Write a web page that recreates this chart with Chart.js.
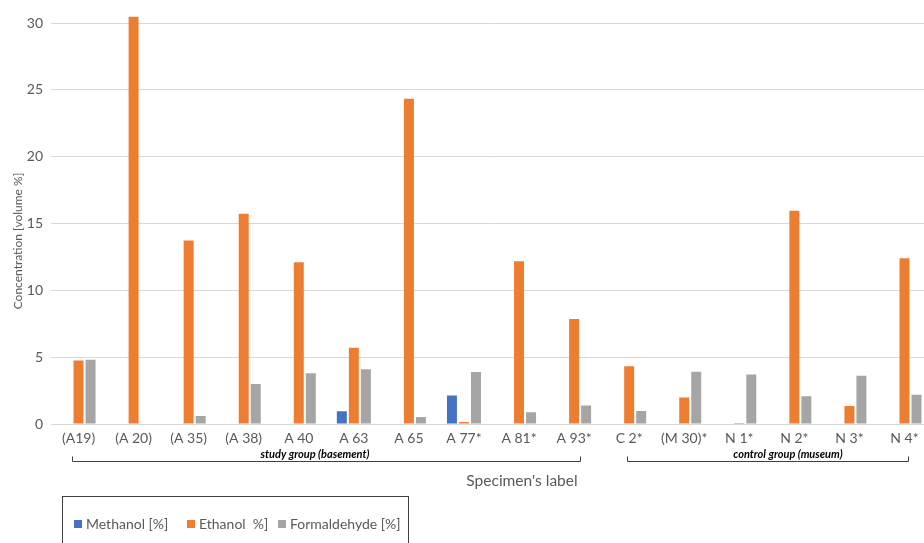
<!DOCTYPE html>
<html>
<head>
<meta charset="utf-8">
<script src="https://cdn.jsdelivr.net/npm/chart.js@4"></script>
<style>
  html, body { margin:0; padding:0; width:924px; height:543px; overflow:hidden; background:#fff; }
  #wrap { position:absolute; left:0; top:0; width:940px; height:543px; }
  #legendBox { position:absolute; left:62px; top:496px; width:347px; height:60px; border:1px solid #3f3f3f; box-sizing:border-box; font-family:Lato, "Liberation Sans", sans-serif; font-size:14px; color:#595959; }
  #legendBox .item { position:absolute; top:18px; white-space:pre; display:flex; align-items:center; }
  #legendBox .sw { width:8px; height:8px; margin-right:4px; display:inline-block; }
</style>
</head>
<body>
<div id="wrap"><canvas id="c" width="940" height="543"></canvas></div>
<div id="legendBox"></div>
<script>
const categories = ["(A19)", "(A 20)", "(A 35)", "(A 38)", "A 40", "A 63", "A 65", "A 77*", "A 81*", "A 93*", "C 2*", "(M 30)*", "N 1*", "N 2*", "N 3*", "N 4*"];
const methanol     = [0, 0, 0, 0, 0, 0.95, 0, 2.13, 0, 0, 0, 0, 0, 0, 0, 0];
const ethanol      = [4.75, 30.5, 13.73, 15.74, 12.1, 5.7, 24.33, 0.15, 12.17, 7.85, 4.33, 1.98, 0.07, 15.96, 1.34, 12.4];
const formaldehyde = [4.8, 0, 0.6, 3.0, 3.8, 4.1, 0.52, 3.9, 0.87, 1.38, 0.97, 3.91, 3.71, 2.08, 3.61, 2.18];
const seriesNames  = ["Methanol [%]", "Ethanol  %]", "Formaldehyde [%]"];
const yTicks = [0, 5, 10, 15, 20, 25, 30];
const groups = [
  { label: "study group (basement)", from: 0, to: 9 },
  { label: "control group (museum)", from: 10, to: 15 }
];
const xTitle = "Specimen's label";
const yTitle = "Concentration [volume %]";

const colors = ["#4472C4", "#ED7D31", "#A5A5A5"];
const FONT = 'Lato, "Liberation Sans", sans-serif';

// bracket geometry (offsets from category centres, in px)
const bracketOffsets = [[-7, 6], [-2, 4]];
const groupLabelX = [315, 788];

const annot = {
  id: 'annot',
  afterDraw(chart) {
    const ctx = chart.ctx;
    const x = chart.scales.x;
    ctx.save();
    groups.forEach((g, i) => {
      const x1 = Math.round(x.getPixelForValue(g.from) + bracketOffsets[i][0]) + 0.5;
      const x2 = Math.round(x.getPixelForValue(g.to) + bracketOffsets[i][1]) + 0.5;
      const yl = 461.5;
      ctx.strokeStyle = '#404040';
      ctx.lineWidth = 1;
      ctx.beginPath();
      ctx.moveTo(x1, yl - 5); ctx.lineTo(x1, yl); ctx.lineTo(x2, yl); ctx.lineTo(x2, yl - 5);
      ctx.stroke();
      ctx.fillStyle = '#000';
      ctx.font = 'italic bold 11px ' + FONT;
      ctx.textAlign = 'center';
      ctx.textBaseline = 'middle';
      ctx.fillText(g.label, groupLabelX[i], 454);
    });
    // x title
    ctx.fillStyle = '#595959';
    ctx.font = '15.5px ' + FONT;
    ctx.textAlign = 'center';
    ctx.textBaseline = 'middle';
    ctx.fillText(xTitle, 522, 481);
    // y title
    ctx.translate(18, 241);
    ctx.rotate(-Math.PI / 2);
    ctx.font = '12px ' + FONT;
    ctx.fillText(yTitle, 0, 0);
    ctx.restore();
  }
};

const chart = new Chart(document.getElementById('c'), {
  type: 'bar',
  data: {
    labels: categories,
    datasets: [methanol, ethanol, formaldehyde].map((d, i) => ({
      label: seriesNames[i],
      data: d,
      backgroundColor: colors[i],
      borderWidth: 0,
      categoryPercentage: 0.655,
      barPercentage: 0.83
    }))
  },
  options: {
    responsive: false,
    animation: false,
    layout: { padding: { left: 0, right: 8, top: 13, bottom: 0 } },
    plugins: { legend: { display: false }, tooltip: { enabled: false } },
    scales: {
      x: {
        grid: { display: false, drawTicks: false },
        border: { display: true, color: '#D9D9D9', width: 1 },
        ticks: { color: '#595959', font: { family: FONT, size: 14 }, padding: 6, maxRotation: 0, autoSkip: false },
        afterFit(s) { s.height = 543 - 424; }
      },
      y: {
        min: 0, max: 30.5,
        afterBuildTicks(s) { s.ticks = yTicks.map(v => ({ value: v })); },
        grid: { color: '#D9D9D9', lineWidth: 1, drawTicks: false },
        border: { display: false },
        ticks: { color: '#595959', font: { family: FONT, size: 14 }, padding: 8 },
        afterFit(s) { s.width = 51; }
      }
    }
  },
  plugins: [annot]
});

// HTML legend built from the chart's datasets
const lb = document.getElementById('legendBox');
const lefts = [11, 124, 215];
chart.data.datasets.forEach((ds, i) => {
  const it = document.createElement('div');
  it.className = 'item';
  it.style.left = lefts[i] + 'px';
  const sw = document.createElement('span');
  sw.className = 'sw';
  sw.style.background = ds.backgroundColor;
  it.appendChild(sw);
  it.appendChild(document.createTextNode(ds.label));
  lb.appendChild(it);
});
</script>
</body>
</html>
